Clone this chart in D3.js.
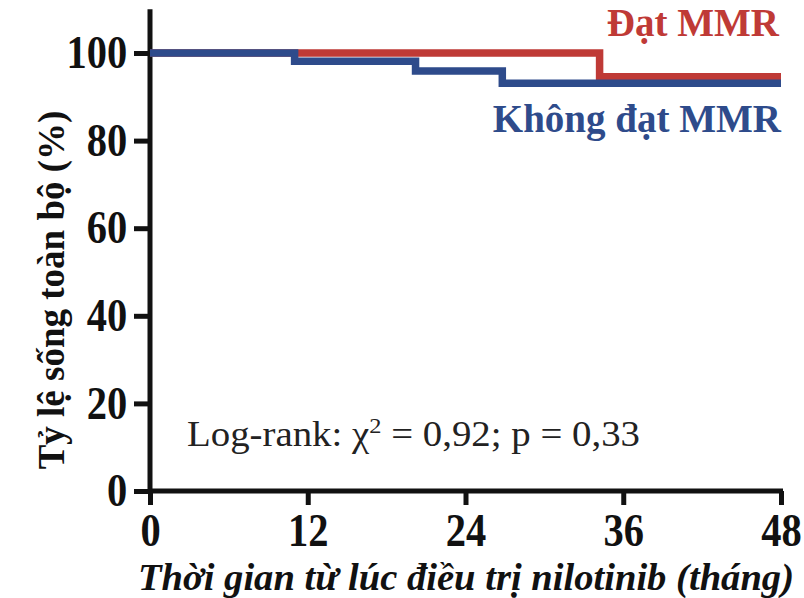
<!DOCTYPE html>
<html>
<head>
<meta charset="utf-8">
<script src="https://cdn.jsdelivr.net/npm/d3@7"></script>
<style>
  body { margin: 0; background: #fff; }
  text { font-family: "Liberation Serif", "Times New Roman", serif; }
</style>
</head>
<body>
<svg id="chart" width="804" height="598"></svg>
<script>
// survival steps: [month, percent]
const datMMR = [[0, 100], [34.2, 94.6], [48, 94.6]];
const khongDatMMR = [[0, 100], [11.0, 98.1], [20.2, 95.9], [26.8, 93.1], [48, 93.1]];
const xTicks = [0, 12, 24, 36, 48];
const yTicks = [0, 20, 40, 60, 80, 100];
const seriesNames = ["Đạt MMR", "Không đạt MMR"];
const colors = ["#bf3a36", "#2e4b8b"];

const svg = d3.select("#chart");

const x = d3.scaleLinear().domain([0, 48]).range([150, 781]);
const y = d3.scaleLinear().domain([0, 100]).range([491, 53]);

// axis lines (y axis runs a bit above 100)
svg.append("line")
    .attr("x1", x(0)).attr("x2", x(0))
    .attr("y1", y(0)).attr("y2", y(110))
    .attr("stroke", "#111").attr("stroke-width", 5);
svg.append("line")
    .attr("x1", x(0)).attr("x2", x(48) + 2)
    .attr("y1", y(0)).attr("y2", y(0))
    .attr("stroke", "#111").attr("stroke-width", 5);

const yAxis = d3.axisLeft(y).tickValues(yTicks).tickSize(16).tickPadding(10);
const gy = svg.append("g").attr("transform", `translate(${x(0)},0)`).call(yAxis);
gy.select(".domain").remove();
gy.selectAll(".tick line").attr("stroke", "#111").attr("stroke-width", 5);
gy.selectAll(".tick text")
    .attr("font-size", 46).attr("font-weight", "bold").attr("fill", "#111")
    .attr("font-family", "Liberation Serif")
    .attr("transform", "scale(0.88,1)");

const xAxis = d3.axisBottom(x).tickValues(xTicks).tickSize(14).tickPadding(8);
const gx = svg.append("g").attr("transform", `translate(0,${y(0)})`).call(xAxis);
gx.select(".domain").remove();
gx.selectAll(".tick line").attr("stroke", "#111").attr("stroke-width", 5);
gx.selectAll(".tick text")
    .attr("font-size", 46).attr("font-weight", "bold").attr("fill", "#111")
    .attr("font-family", "Liberation Serif")
    .attr("transform", "scale(0.88,1)");

const line = d3.line()
    .x(d => x(d[0]))
    .y(d => y(d[1]))
    .curve(d3.curveStepAfter);

[datMMR, khongDatMMR].forEach((s, i) => {
    svg.append("path")
        .datum(s)
        .attr("d", line)
        .attr("fill", "none")
        .attr("stroke", colors[i])
        .attr("stroke-width", 7.5);
});

// series labels
svg.append("text")
    .attr("x", 779).attr("y", 36)
    .attr("text-anchor", "end")
    .attr("font-size", 39).attr("font-weight", "bold")
    .attr("fill", colors[0])
    .text(seriesNames[0]);
svg.append("text")
    .attr("x", 781).attr("y", 132)
    .attr("text-anchor", "end")
    .attr("font-size", 39).attr("font-weight", "bold")
    .attr("fill", colors[1])
    .text(seriesNames[1]);

// log-rank annotation
const lr = svg.append("text")
    .attr("x", 187).attr("y", 446)
    .attr("font-size", 35).attr("fill", "#222")
    .attr("textLength", 453).attr("lengthAdjust", "spacingAndGlyphs");
lr.append("tspan").text("Log-rank: χ");
lr.append("tspan").attr("font-size", 22).attr("dy", -13).text("2");
lr.append("tspan").attr("dy", 13).text(" = 0,92; p = 0,33");

// axis titles
svg.append("text")
    .attr("transform", `translate(64,${290}) rotate(-90)`)
    .attr("text-anchor", "middle")
    .attr("font-size", 37).attr("font-weight", "bold").attr("fill", "#111")
    .text("Tỷ lệ sống toàn bộ (%)");

svg.append("text")
    .attr("x", 466).attr("y", 590)
    .attr("text-anchor", "middle")
    .attr("font-size", 38).attr("font-weight", "bold").attr("font-style", "italic")
    .attr("fill", "#111")
    .attr("textLength", 656).attr("lengthAdjust", "spacingAndGlyphs")
    .text("Thời gian từ lúc điều trị nilotinib (tháng)");
</script>
</body>
</html>
